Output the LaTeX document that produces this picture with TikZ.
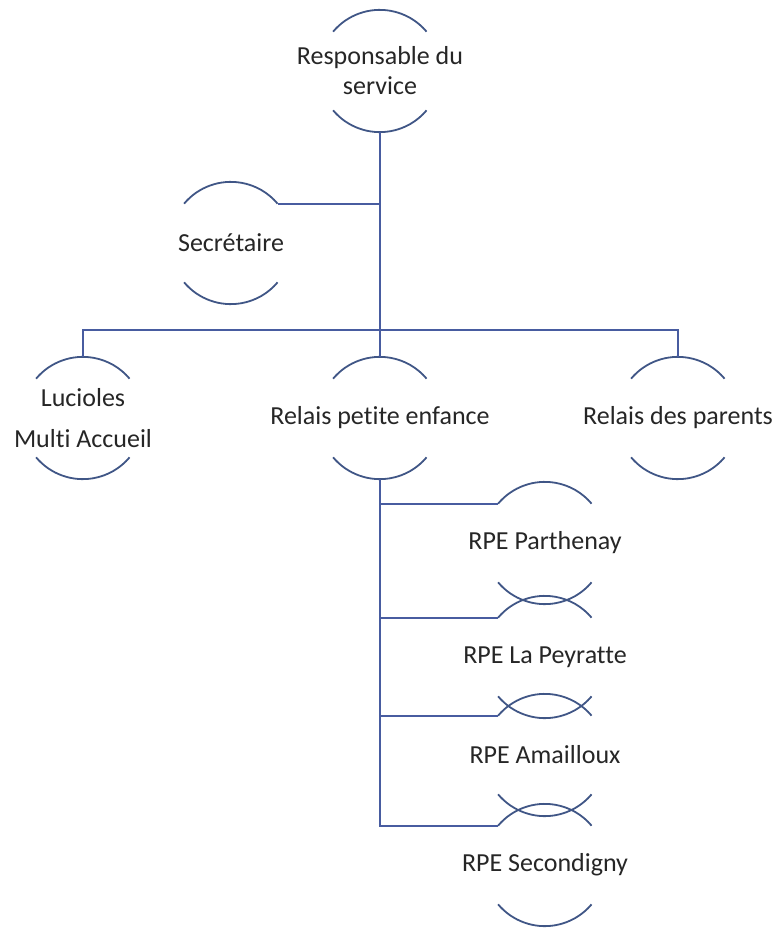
\documentclass[tikz,border=0pt]{standalone}
\usepackage{fontspec}
\setmainfont{Carlito}[Ligatures=NoCommon]
\usepackage{tikz}
\definecolor{arcblue}{RGB}{64,86,134}
\definecolor{linkblue}{RGB}{72,92,160}

\begin{document}
\begin{tikzpicture}[x=1pt,y=-1pt,
                   post/.style={circle,minimum size=122pt,inner sep=0pt},
                   txt/.style={font=\fontsize{26}{30}\selectfont,align=center,text=black!85},
                   link/.style={draw=linkblue,line width=2.2pt},
                   half/.style={draw=arcblue,line width=1.8pt}]
\useasboundingbox (0,0) rectangle (779,928);
% postes
\node[post,label={[txt]center:{Responsable du\\service}}] (resp) at (380,71) {};
\node[post,label={[txt]center:Secrétaire}] (secr) at (231,243) {};
\node[post,label={[txt]center:{Lucioles\\[11pt]Multi Accueil}}] (luc) at (83,418) {};
\node[post,label={[txt]center:Relais petite enfance}] (rpe) at (380,418) {};
\node[post,label={[txt]center:Relais des parents}] (parents) at (678,418) {};
\node[post,label={[txt]center:RPE Parthenay}] (parth) at (545,543) {};
\node[post,label={[txt]center:RPE La Peyratte}] (peyr) at (545,657) {};
\node[post,label={[txt]center:RPE Amailloux}] (amail) at (545,755) {};
\node[post,label={[txt]center:RPE Secondigny}] (second) at (545,865) {};
\foreach \n in {resp,secr,luc,rpe,parents,parth,peyr,amail,second}
  \draw[half] (\n.140) arc[start angle=140,end angle=40,radius=61pt]
              (\n.220) arc[start angle=220,end angle=320,radius=61pt];
% liens
\coordinate (bus) at (380,330);
\draw[link] (resp.south) -- (rpe.north);
\draw[link] (secr.40) -- (secr.40 -| resp.south);
\draw[link] (luc.north) |- (bus) -| (parents.north);
\foreach \c in {parth,peyr,amail,second}
  \draw[link] (rpe.south) |- (\c.140);
\end{tikzpicture}
\end{document}
